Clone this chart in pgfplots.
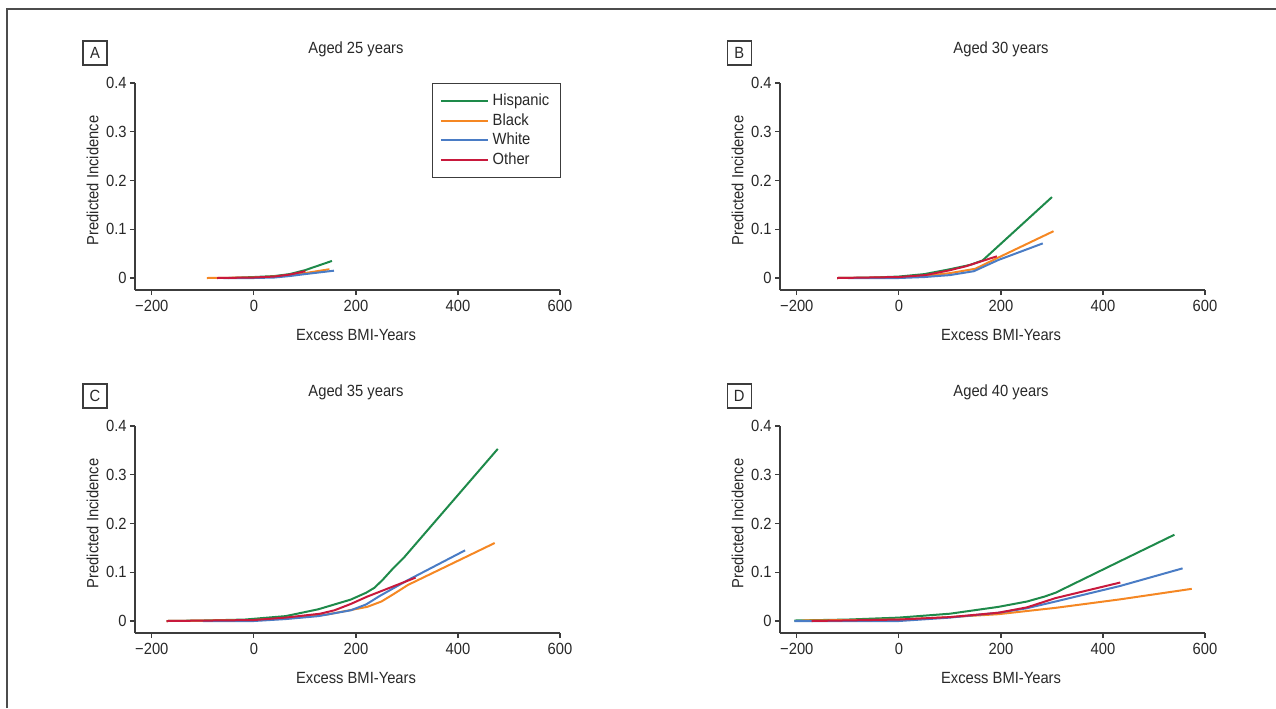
\documentclass[border=0pt]{standalone}
\usepackage{fontspec}
\setmainfont{Liberation Sans}[FakeStretch=0.91]
\usepackage{pgfplots}
\pgfplotsset{compat=1.18}
\definecolor{hisp}{RGB}{30,138,74}
\definecolor{blk}{RGB}{245,135,35}
\definecolor{wht}{RGB}{74,124,197}
\definecolor{oth}{RGB}{200,25,60}
\definecolor{axgray}{RGB}{60,60,60}
\definecolor{txtgray}{RGB}{40,40,40}
\newcommand{\fsz}{\fontsize{8.1bp}{9.6bp}\selectfont}
\tikzset{letterbox/.style={draw=axgray, line width=0.6bp, minimum width=12bp, minimum height=12bp, inner sep=0pt, font=\fsz, text=txtgray}}
\pgfplotsset{
  panel/.style={
    scale only axis, width=212.5bp, height=103.5bp,
    xmin=-233, xmax=600, ymin=-0.0246, ymax=0.4,
    axis lines=left, axis line style={-, draw=axgray, line width=0.6bp},
    xtick={-200,0,200,400,600}, xticklabels={−200,0,200,400,600},
    ytick={0,0.1,0.2,0.3,0.4}, yticklabels={0,0.1,0.2,0.3,0.4},
    tick align=outside, major tick length=2.5bp,
    tick style={draw=axgray, line width=0.6bp},
    ticklabel style={font=\fsz, text=txtgray},
    xticklabel style={inner sep=2.5bp},
    yticklabel style={inner sep=1.5bp},
    xlabel={Excess BMI-Years}, ylabel={Predicted Incidence},
    label style={font=\fsz, text=txtgray, inner sep=0pt},
    xlabel style={at={(axis description cs:0.52,0)}, anchor=north, yshift=-19.5bp},
    ylabel style={at={(axis description cs:-0.0847,0.529)}, anchor=south},
    every axis title shift=0pt,
    title style={at={(axis description cs:0.52,1.1435)}, anchor=base, font=\fsz, text=txtgray, inner sep=0pt},
    every axis plot/.append style={line width=1bp, no markers},
    clip=false,
  },
}
\begin{document}
\begin{tikzpicture}[x=0.5bp, y=-0.5bp]
\useasboundingbox (0,0) rectangle (1276,708);
\draw[line width=0.8bp, draw=black!70] (7,708) -- (7,9) -- (1276,9);
\coordinate (pA) at (135,290);
\coordinate (pB) at (780,290);
\coordinate (pC) at (135,633);
\coordinate (pD) at (780,633);

% Panel A
\begin{axis}[panel, at={(pA)}, anchor=south west, title={Aged 25 years},
  legend style={at={(axis description cs:1.002,1)}, anchor=north east, draw=axgray, line width=0.6bp,
    font=\fsz, text=txtgray, inner xsep=3.5bp, inner ysep=2.75bp, row sep=-1.5bp,
    cells={anchor=west, text height=6bp, text depth=1.5bp, inner ysep=1.25bp, inner xsep=1.5bp}},
  legend image code/.code={\draw[#1, line width=1bp] (0bp,0bp) -- (23.5bp,0bp);}]
\addplot[hisp] coordinates {(-50,0) (0,0.002) (40,0.004) (70,0.008) (100,0.016) (153,0.035)};
\addlegendentry{Hispanic}
\addplot[blk] coordinates {(-92,0) (0,0.001) (40,0.003) (70,0.006) (100,0.010) (148,0.018)};
\addlegendentry{Black}
\addplot[wht] coordinates {(-60,0) (0,0) (40,0.001) (70,0.004) (100,0.008) (157,0.015)};
\addlegendentry{White}
\addplot[oth] coordinates {(-72,0) (0,0.001) (40,0.003) (70,0.007) (101,0.014)};
\addlegendentry{Other}
\node[letterbox] at (axis description cs:-0.0941,1.145) {A};
\end{axis}

% Panel B
\begin{axis}[panel, at={(pB)}, anchor=south west, title={Aged 30 years}]
\addplot[hisp] coordinates {(-121,0) (-50,0.001) (0,0.003) (50,0.008) (100,0.018) (140,0.027) (164,0.036) (300,0.166)};
\addplot[blk] coordinates {(-121,0) (0,0.001) (50,0.004) (100,0.010) (150,0.019) (195,0.042) (303,0.096)};
\addplot[wht] coordinates {(-100,0) (0,0) (50,0.002) (100,0.006) (147,0.014) (195,0.037) (282,0.071)};
\addplot[oth] coordinates {(-121,0) (0,0.002) (52,0.006) (100,0.016) (131,0.024) (192,0.0445)};
\node[letterbox] at (axis description cs:-0.096,1.145) {B};
\end{axis}

% Panel C
\begin{axis}[panel, at={(pC)}, anchor=south west, title={Aged 35 years}]
\addplot[hisp] coordinates {(-171,0) (-100,0.001) (-18,0.003) (62,0.010) (126,0.024) (190,0.044) (220,0.058) (236,0.068) (252,0.084) (272,0.107) (294,0.130) (478,0.353)};
\addplot[blk] coordinates {(-171,0) (0,0.002) (62,0.005) (142,0.013) (222,0.029) (250,0.040) (275,0.056) (302,0.074) (472,0.160)};
\addplot[wht] coordinates {(-100,0) (0,0) (62,0.004) (126,0.010) (190,0.022) (220,0.034) (246,0.051) (302,0.084) (414,0.145)};
\addplot[oth] coordinates {(-171,0) (0,0.002) (62,0.007) (130,0.015) (158,0.022) (190,0.035) (222,0.050) (317,0.089)};
\node[letterbox] at (axis description cs:-0.0941,1.145) {C};
\end{axis}

% Panel D
\begin{axis}[panel, at={(pD)}, anchor=south west, title={Aged 40 years}]
\addplot[hisp] coordinates {(-205,0.001) (-100,0.003) (0,0.007) (100,0.015) (195,0.029) (251,0.040) (285,0.050) (307,0.058) (434,0.123) (540,0.177)};
\addplot[blk] coordinates {(-190,0.001) (0,0.003) (100,0.008) (195,0.014) (307,0.027) (434,0.0445) (574,0.066)};
\addplot[wht] coordinates {(-205,0) (0,0) (100,0.007) (195,0.017) (250,0.026) (307,0.040) (434,0.072) (556,0.108)};
\addplot[oth] coordinates {(-171,0) (0,0.003) (100,0.008) (195,0.017) (251,0.028) (307,0.047) (434,0.079)};
\node[letterbox] at (axis description cs:-0.096,1.145) {D};
\end{axis}
\end{tikzpicture}
\end{document}
